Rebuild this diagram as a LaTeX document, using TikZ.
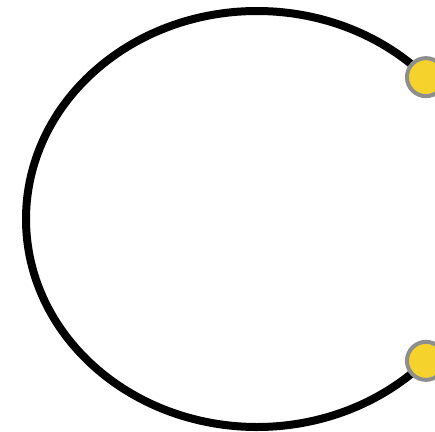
\documentclass[tikz,border=0pt]{standalone}
\usepackage{tikz}
\usetikzlibrary{positioning, calc}
\definecolor{dotyellow}{HTML}{F5D22C}
\definecolor{dotgray}{HTML}{8E8E8E}
\begin{document}
\begin{tikzpicture}[
      x=1pt, y=1pt,
      loop/.style={line width=8pt, black},
      pin/.style={circle, draw=dotgray, line width=4pt, fill=dotyellow,
        minimum size=38pt, inner sep=0pt}
    ]
    \useasboundingbox (0,0) rectangle (435,431);
    \coordinate (c) at (257,212);
    \coordinate (topend) at ($(c)+(43:231pt and 208pt)$);
    \coordinate (bottomend) at ($(c)+(-43:231pt and 208pt)$);

    \draw[loop] (topend) arc[start angle=43, end angle=317,
      x radius=231pt, y radius=208pt];
    \node[pin] (top) at (topend) {};
    \node[pin] (bottom) at (bottomend) {};
  \end{tikzpicture}
\end{document}
